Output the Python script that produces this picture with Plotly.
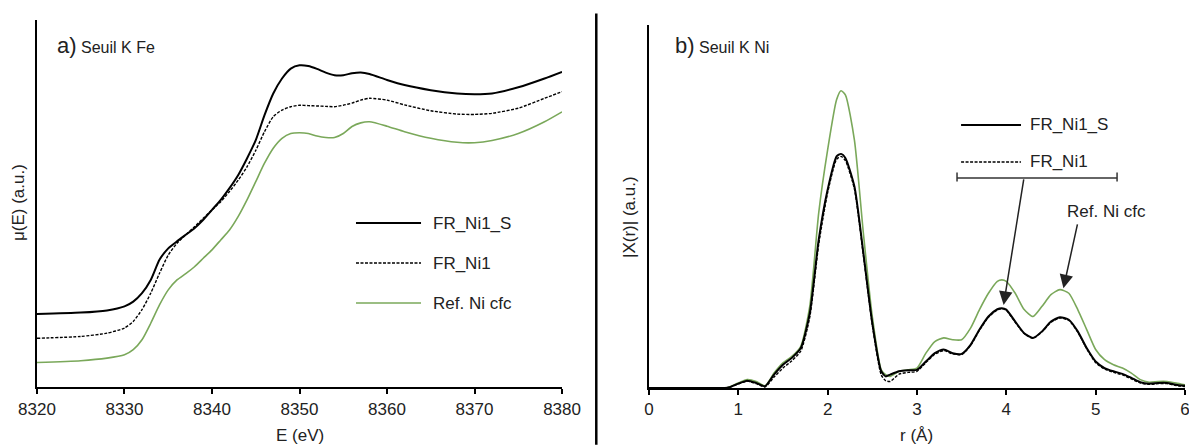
import plotly.graph_objects as go

# ---------------- Data: panel a) Fe K-edge XANES ----------------
E = [8320, 8325, 8328, 8330, 8331, 8332, 8333, 8334, 8335, 8336, 8337, 8338, 8339,
     8340, 8341, 8342, 8343, 8344, 8345, 8346, 8347, 8348, 8349, 8350, 8351, 8352,
     8353, 8354, 8355, 8356, 8357, 8358, 8360, 8362, 8365, 8368, 8370, 8372, 8375,
     8378, 8380]
mu_FR_Ni1_S = [19.9, 20.3, 20.9, 22.0, 23.3, 25.6, 29.2, 34.7, 37.8, 39.7, 41.5, 43.3, 45.6,
               48.3, 51.0, 54.2, 57.8, 62.3, 67.3, 74.1, 80.0, 84.1, 86.8, 87.7, 87.5, 86.7,
               85.7, 85.0, 85.0, 85.5, 85.7, 85.3, 83.7, 82.3, 80.9, 80.0, 79.8, 80.0, 81.7,
               84.1, 85.9]
mu_FR_Ni1 = [13.3, 13.8, 14.7, 16.1, 17.9, 21.1, 25.6, 31.0, 36.0, 39.2, 41.5, 43.7, 46.0,
             48.3, 50.5, 53.3, 56.4, 60.0, 64.5, 69.6, 73.7, 75.5, 76.4, 76.8, 76.7, 76.6,
             76.5, 76.4, 76.8, 77.4, 78.2, 78.7, 78.2, 76.9, 75.3, 74.4, 74.3, 74.6, 76.0,
             78.7, 80.5]
mu_Ref = [6.7, 7.2, 7.9, 8.8, 10.2, 12.9, 17.4, 22.4, 26.5, 29.2, 30.9, 32.8, 35.1,
          37.4, 40.1, 42.8, 46.5, 51.0, 56.0, 61.0, 65.1, 67.8, 69.1, 69.3, 69.1, 68.4,
          68.0, 68.0, 69.1, 71.0, 72.0, 72.3, 71.1, 69.6, 67.8, 66.7, 66.6, 67.2, 69.1,
          72.3, 75.0]

# ---------------- Data: panel b) Ni K-edge FT ----------------
r = [0.0, 0.5, 0.85, 0.9, 1.0, 1.1, 1.2, 1.3, 1.4, 1.5, 1.6, 1.7, 1.8, 1.9, 2.0, 2.1, 2.15,
     2.2, 2.3, 2.4, 2.5, 2.6, 2.65, 2.7, 2.8, 2.9, 3.0, 3.1, 3.2, 3.3, 3.4, 3.5, 3.6, 3.7,
     3.8, 3.9, 3.95, 4.0, 4.1, 4.2, 4.3, 4.4, 4.5, 4.6, 4.7, 4.8, 4.9, 5.0, 5.1, 5.2, 5.3,
     5.4, 5.5, 5.6, 5.7, 5.8, 5.9, 6.0]
ft_FR_Ni1_S = [0.0, 0.0, 0.0, 0.2, 1.2, 2.0, 1.4, 0.5, 3.7, 6.4, 8.3, 11.0, 20.6, 40.8, 54.6,
               63.8, 64.5, 63.3, 55.5, 37.2, 17.9, 4.6, 3.2, 3.7, 4.6, 4.9, 5.0, 7.3, 9.6,
               10.6, 9.6, 9.4, 11.9, 16.1, 19.7, 21.7, 22.0, 21.6, 18.3, 15.1, 13.8, 15.6,
               18.3, 19.5, 18.8, 15.6, 11.0, 7.3, 5.5, 4.6, 3.9, 2.8, 1.6, 1.2, 1.4, 1.4,
               0.9, 0.6]
ft_FR_Ni1 = [0.0, 0.0, 0.0, 0.2, 1.1, 1.9, 1.2, 0.3, 3.0, 5.5, 7.5, 10.2, 19.5, 39.5, 53.8,
             63.0, 63.8, 62.6, 54.8, 36.6, 17.4, 3.6, 2.0, 1.8, 3.8, 4.3, 4.6, 7.0, 9.3,
             10.3, 9.4, 9.2, 11.7, 15.9, 19.5, 21.5, 21.8, 21.4, 18.1, 15.0, 13.7, 15.5,
             18.1, 19.3, 18.6, 15.4, 10.8, 7.0, 5.2, 4.3, 3.6, 2.5, 1.4, 1.0, 1.2, 1.2,
             0.7, 0.4]
ft_Ref = [0.0, 0.0, 0.0, 0.3, 1.4, 2.3, 1.8, 0.6, 4.1, 6.9, 8.7, 11.5, 22.5, 48.2, 65.6,
          79.4, 81.9, 80.7, 68.3, 42.7, 19.7, 5.0, 3.7, 3.2, 4.6, 5.0, 5.5, 9.6, 12.8,
          13.8, 13.3, 13.3, 16.5, 21.6, 26.1, 29.4, 29.8, 29.4, 26.1, 21.6, 19.7, 22.5,
          25.7, 27.1, 26.1, 21.6, 16.1, 10.6, 7.8, 6.4, 5.5, 4.1, 2.3, 1.6, 1.8, 1.8,
          1.4, 0.9]

series_names = ["FR_Ni1_S", "FR_Ni1", "Ref. Ni cfc"]
e_ticks = [8320, 8330, 8340, 8350, 8360, 8370, 8380]
r_ticks = [0, 1, 2, 3, 4, 5, 6]

GREEN = "#7aa85a"
FONT = "Liberation Sans, Arial, sans-serif"
TXT = "#222222"
FS = 17

styles = [dict(color="black", width=2, dash="solid"),
          dict(color="black", width=1.4, dash="3px,1.5px"),
          dict(color=GREEN, width=1.6, dash="solid")]

fig = go.Figure()
for ys, st, nm in zip([mu_FR_Ni1_S, mu_FR_Ni1, mu_Ref], styles, series_names):
    fig.add_trace(go.Scatter(x=E, y=ys, mode="lines", line=dict(shape="spline", smoothing=0.6, **st),
                             name=nm, showlegend=False, xaxis="x", yaxis="y"))
for ys, st, nm in zip([ft_Ref, ft_FR_Ni1, ft_FR_Ni1_S], [styles[2], styles[1], styles[0]],
                      [series_names[2], series_names[1], series_names[0]]):
    fig.add_trace(go.Scatter(x=r, y=ys, mode="lines", line=dict(shape="spline", smoothing=0.6, **st),
                             name=nm, showlegend=False, xaxis="x2", yaxis="y2"))

axis_common = dict(showline=True, linecolor="black", linewidth=2, showgrid=False, zeroline=False,
                   ticks="outside", ticklen=5, tickwidth=1.5, tickcolor="black", automargin=False,
                   ticklabeloverflow="allow",
                   tickfont=dict(family=FONT, size=FS, color=TXT))
yaxis_common = dict(showline=True, linecolor="black", linewidth=2, showgrid=False, zeroline=False,
                    showticklabels=False, ticks="", automargin=False)

fig.update_layout(
    width=1189, height=447,
    margin=dict(l=0, r=0, t=0, b=0, pad=0),
    paper_bgcolor="white", plot_bgcolor="white",
    xaxis=dict(domain=[0.0311, 0.4727], range=[8320, 8380], tickvals=e_ticks, anchor="y", **axis_common),
    yaxis=dict(domain=[0.134, 0.955], range=[0, 100], anchor="x", **yaxis_common),
    xaxis2=dict(domain=[0.5458, 0.9966], range=[0, 6], tickvals=r_ticks, anchor="y2", **axis_common),
    yaxis2=dict(domain=[0.132, 0.944], range=[0, 100], anchor="x2", **yaxis_common),
)

shapes = []
annotations = []

# divider between panels
shapes.append(dict(type="line", xref="paper", yref="paper", x0=0.5015, x1=0.5015, y0=0.005, y1=0.97,
                   line=dict(color="black", width=2.5)))

# Left panel legend
leg_y = [0.501, 0.4116, 0.3221]
for nm, st, yy in zip(series_names, styles, leg_y):
    shapes.append(dict(type="line", xref="paper", yref="paper", x0=0.2994, x1=0.3541, y0=yy, y1=yy,
                       line=dict(color=st["color"], width=st["width"], dash=st["dash"])))
    annotations.append(dict(text=nm, xref="paper", yref="paper", x=0.3625, y=yy, xanchor="left",
                            yanchor="middle", showarrow=False, font=dict(family=FONT, size=FS, color=TXT)))

# Right panel legend
for nm, st, yy in zip(series_names[:2], styles[:2], [0.7204, 0.6376]):
    shapes.append(dict(type="line", xref="paper", yref="paper", x0=0.8083, x1=0.8587, y0=yy, y1=yy,
                       line=dict(color=st["color"], width=st["width"], dash=st["dash"])))
    annotations.append(dict(text=nm, xref="paper", yref="paper", x=0.8646, y=yy, xanchor="left",
                            yanchor="middle", showarrow=False, font=dict(family=FONT, size=FS, color=TXT)))
# bracket
shapes.append(dict(type="line", xref="paper", yref="paper", x0=0.8049, x1=0.9395, y0=0.6018, y1=0.6018,
                   line=dict(color="#333", width=1.5)))
for xx in [0.8049, 0.9395]:
    shapes.append(dict(type="line", xref="paper", yref="paper", x0=xx, x1=xx, y0=0.594, y1=0.614,
                       line=dict(color="#333", width=1.5)))

# arrows
annotations.append(dict(x=3.97, y=22.9, ax=4.198, ay=57.9, xref="x2", yref="y2", axref="x2", ayref="y2",
                        text="", showarrow=True, arrowhead=2, arrowsize=1.8, arrowwidth=1.5, arrowcolor="#222"))
annotations.append(dict(x=4.64, y=27.5, ax=4.80, ay=45.5, xref="x2", yref="y2", axref="x2", ayref="y2",
                        text="", showarrow=True, arrowhead=2, arrowsize=1.8, arrowwidth=1.5, arrowcolor="#222"))
annotations.append(dict(text="Ref. Ni cfc", x=5.127, y=48.5, xref="x2", yref="y2", showarrow=False,
                        xanchor="center", yanchor="middle", font=dict(family=FONT, size=FS, color=TXT)))

# panel titles
annotations.append(dict(text="<span style='font-size:22px'>a)</span> Seuil K Fe", xref="paper", yref="paper",
                        x=0.046, y=0.899, xanchor="left", yanchor="middle", showarrow=False,
                        font=dict(family=FONT, size=16, color=TXT)))
annotations.append(dict(text="<span style='font-size:22px'>b)</span> Seuil K Ni", xref="paper", yref="paper",
                        x=0.566, y=0.899, xanchor="left", yanchor="middle", showarrow=False,
                        font=dict(family=FONT, size=16, color=TXT)))

# axis titles
annotations.append(dict(text="μ(E) (a.u.)", xref="paper", yref="paper", x=0.0151, y=0.548, textangle=-90,
                        xanchor="center", yanchor="middle", showarrow=False, font=dict(family=FONT, size=FS, color=TXT)))
annotations.append(dict(text="|X(r)| (a.u.)", xref="paper", yref="paper", x=0.530, y=0.515, textangle=-90,
                        xanchor="center", yanchor="middle", showarrow=False, font=dict(family=FONT, size=FS, color=TXT)))
annotations.append(dict(text="E (eV)", xref="paper", yref="paper", x=0.252, y=0.026,
                        xanchor="center", yanchor="middle", showarrow=False, font=dict(family=FONT, size=FS, color=TXT)))
annotations.append(dict(text="r (Å)", xref="paper", yref="paper", x=0.771, y=0.026,
                        xanchor="center", yanchor="middle", showarrow=False, font=dict(family=FONT, size=FS, color=TXT)))

fig.update_layout(shapes=shapes, annotations=annotations)
fig.write_html("out.html", config={"displayModeBar": False},
               post_script="document.body.style.margin='0px';")
